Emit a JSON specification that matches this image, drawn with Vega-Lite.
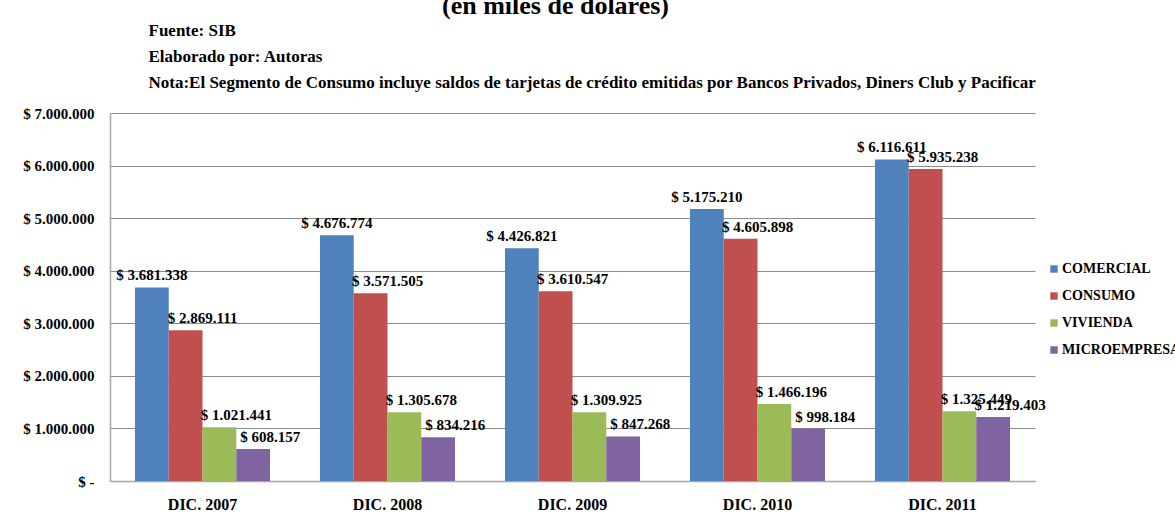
{
  "$schema": "https://vega.github.io/schema/vega-lite/v6.json",
  "width": 925,
  "height": 368,
  "autosize": {"type": "none"},
  "padding": {"left": 110, "top": 113, "right": 140, "bottom": 32},
  "background": "white",
  "title": {
    "text": "(en miles de dólares)",
    "anchor": "middle",
    "frame": "group",
    "font": "Liberation Serif",
    "fontSize": 26,
    "fontWeight": "bold",
    "color": "black",
    "dx": -17,
    "offset": 2
  },
  "data": {
    "values": [
      {"periodo": "DIC. 2007", "segmento": "COMERCIAL", "valor": 3681338},
      {"periodo": "DIC. 2007", "segmento": "CONSUMO", "valor": 2869111},
      {"periodo": "DIC. 2007", "segmento": "VIVIENDA", "valor": 1021441},
      {"periodo": "DIC. 2007", "segmento": "MICROEMPRESA", "valor": 608157},
      {"periodo": "DIC. 2008", "segmento": "COMERCIAL", "valor": 4676774},
      {"periodo": "DIC. 2008", "segmento": "CONSUMO", "valor": 3571505},
      {"periodo": "DIC. 2008", "segmento": "VIVIENDA", "valor": 1305678},
      {"periodo": "DIC. 2008", "segmento": "MICROEMPRESA", "valor": 834216},
      {"periodo": "DIC. 2009", "segmento": "COMERCIAL", "valor": 4426821},
      {"periodo": "DIC. 2009", "segmento": "CONSUMO", "valor": 3610547},
      {"periodo": "DIC. 2009", "segmento": "VIVIENDA", "valor": 1309925},
      {"periodo": "DIC. 2009", "segmento": "MICROEMPRESA", "valor": 847268},
      {"periodo": "DIC. 2010", "segmento": "COMERCIAL", "valor": 5175210},
      {"periodo": "DIC. 2010", "segmento": "CONSUMO", "valor": 4605898},
      {"periodo": "DIC. 2010", "segmento": "VIVIENDA", "valor": 1466196},
      {"periodo": "DIC. 2010", "segmento": "MICROEMPRESA", "valor": 998184},
      {"periodo": "DIC. 2011", "segmento": "COMERCIAL", "valor": 6116611},
      {"periodo": "DIC. 2011", "segmento": "CONSUMO", "valor": 5935238},
      {"periodo": "DIC. 2011", "segmento": "VIVIENDA", "valor": 1325449},
      {"periodo": "DIC. 2011", "segmento": "MICROEMPRESA", "valor": 1219403}
    ]
  },
  "encoding": {
    "x": {
      "field": "periodo",
      "type": "nominal",
      "scale": {"paddingInner": 0.27, "paddingOuter": 0.135},
      "axis": {
        "title": null,
        "labelAngle": 0,
        "labelFont": "Liberation Serif",
        "labelFontWeight": "bold",
        "labelFontSize": 16,
        "labelColor": "black",
        "labelPadding": 15,
        "ticks": false,
        "domainColor": "#a6a6a6",
        "domainWidth": 1.5
      }
    },
    "xOffset": {
      "field": "segmento",
      "type": "nominal",
      "sort": ["COMERCIAL", "CONSUMO", "VIVIENDA", "MICROEMPRESA"],
      "scale": {"paddingInner": 0, "paddingOuter": 0}
    },
    "y": {
      "field": "valor",
      "type": "quantitative",
      "scale": {"domain": [0, 7000000], "nice": false},
      "axis": {
        "values": [0, 1000000, 2000000, 3000000, 4000000, 5000000, 6000000, 7000000],
        "format": "$,.0f",
        "labelExpr": "datum.value == 0 ? '$ -' : datum.label",
        "labelFont": "Liberation Serif",
        "labelFontWeight": "bold",
        "labelFontSize": 15,
        "labelColor": "black",
        "labelPadding": 16,
        "ticks": false,
        "domainColor": "#a6a6a6",
        "domainWidth": 1.5,
        "gridColor": "#8c8c8c",
        "gridWidth": 1,
        "title": ["Fuente: SIB", "Elaborado por: Autoras", "Nota:El Segmento de Consumo incluye saldos de tarjetas de crédito emitidas por Bancos Privados, Diners Club y Pacificar"],
        "titleAngle": 0,
        "titleAlign": "left",
        "titleBaseline": "alphabetic",
        "titleX": 38,
        "titleY": -78,
        "titleFont": "Liberation Serif",
        "titleFontWeight": "bold",
        "titleFontSize": 17,
        "titleLineHeight": 26,
        "titleColor": "black"
      }
    }
  },
  "layer": [
    {
      "mark": {"type": "bar"},
      "encoding": {
        "color": {
          "field": "segmento",
          "type": "nominal",
          "sort": ["COMERCIAL", "CONSUMO", "VIVIENDA", "MICROEMPRESA"],
          "scale": {
            "domain": ["COMERCIAL", "CONSUMO", "VIVIENDA", "MICROEMPRESA"],
            "range": ["#4F81BD", "#C0504D", "#9BBB59", "#8064A2"]
          },
          "legend": {
            "title": null,
            "orient": "none",
            "legendX": 937,
            "legendY": 149,
            "symbolType": "square",
            "symbolSize": 55,
            "symbolStrokeWidth": 0,
            "labelFont": "Liberation Serif",
            "labelFontWeight": "bold",
            "labelFontSize": 14,
            "labelColor": "black",
            "labelOffset": 1,
            "rowPadding": 13
          }
        }
      }
    },
    {
      "transform": [{"filter": "datum.segmento == 'COMERCIAL'"}],
      "mark": {
        "type": "text",
        "baseline": "bottom",
        "dy": -4,
        "dx": 0,
        "font": "Liberation Serif",
        "fontWeight": "bold",
        "fontSize": 15,
        "color": "black"
      },
      "encoding": {
        "text": {"field": "valor", "type": "quantitative", "format": "$,.0f"}
      }
    },
    {
      "transform": [{"filter": "datum.segmento != 'COMERCIAL'"}],
      "mark": {
        "type": "text",
        "baseline": "bottom",
        "dy": -4,
        "dx": 17,
        "font": "Liberation Serif",
        "fontWeight": "bold",
        "fontSize": 15,
        "color": "black"
      },
      "encoding": {
        "text": {"field": "valor", "type": "quantitative", "format": "$,.0f"}
      }
    }
  ],
  "config": {
    "locale": {
      "number": {
        "decimal": ",",
        "thousands": ".",
        "grouping": [3],
        "currency": ["$ ", ""]
      }
    },
    "view": {"stroke": null}
  }
}
